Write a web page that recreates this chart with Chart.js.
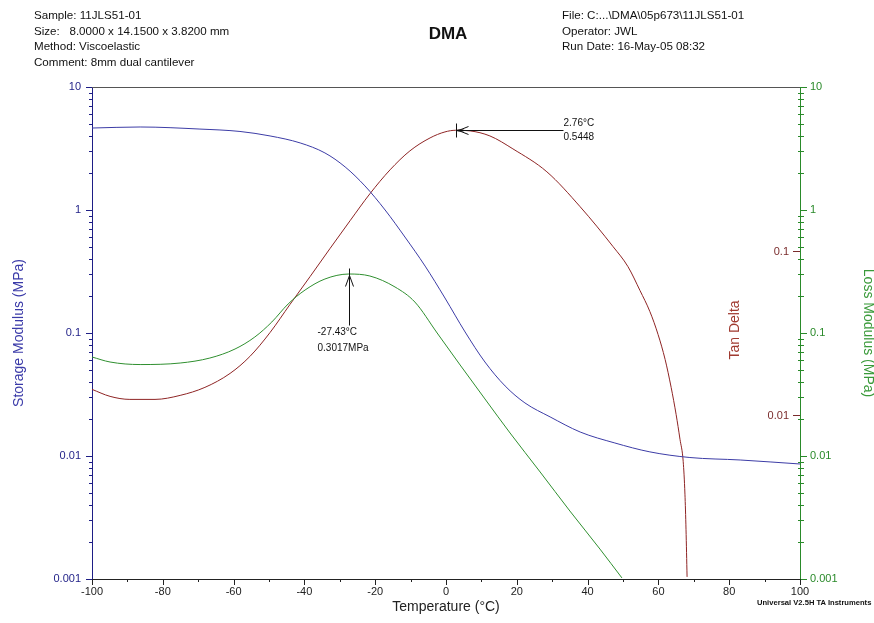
<!DOCTYPE html>
<html><head><meta charset="utf-8">
<script src="https://cdn.jsdelivr.net/npm/chart.js@4.4.1/dist/chart.umd.min.js"></script>
<style>
html,body{margin:0;padding:0;background:#fff;}
#wrap{position:relative;width:874px;height:623px;overflow:hidden;font-family:Arial,"Liberation Sans",sans-serif;}
#c{position:absolute;left:0;top:0;}
.hdr{position:absolute;font-size:11.6px;line-height:15.5px;color:#111;white-space:pre;}
.ttl{position:absolute;left:448px;top:24px;transform:translateX(-50%);font-size:17px;font-weight:bold;color:#111;}
.ftr{position:absolute;left:757px;top:598px;font-size:7.6px;font-weight:bold;color:#111;white-space:nowrap;}
</style></head><body>
<div id="wrap">
<canvas id="c" width="874" height="623"></canvas>
<div class="hdr" style="left:34px;top:7px"><div>Sample: 11JLS51-01</div><div>Size:   8.0000 x 14.1500 x 3.8200 mm</div><div>Method: Viscoelastic</div><div>Comment: 8mm dual cantilever</div></div>
<div class="ttl">DMA</div>
<div class="hdr" style="left:562px;top:7px"><div>File: C:...\DMA\05p673\11JLS51-01</div><div>Operator: JWL</div><div>Run Date: 16-May-05 08:32</div></div>
<div class="ftr">Universal V2.5H TA Instruments</div>
</div>
<script>
// ---- data ----
const storageT   = [-100,-86.4,-69.5,-58.2,-49.7,-41.2,-34.2,-28.5,-22.9,-17.2,-11.6,-5.9,-0.3,5.4,11.0,16.7,22.3,29.4,37.9,47.7,57.6,68.9,83.1,100];
const storageMPa = [4.64,4.73,4.55,4.35,4.00,3.51,2.91,2.24,1.57,1.00,0.603,0.350,0.1926,0.1019,0.0581,0.0371,0.0270,0.0208,0.01567,0.01276,0.0108,0.00972,0.00928,0.00861];

const lossT   = [-100,-94.9,-86.4,-75.1,-66.7,-59.6,-54.0,-49.2,-44.6,-39.8,-34.2,-27.43,-21.5,-14.4,-8.8,-2.5,4.0,11.0,18.1,26.6,35.0,43.5,49.7];
const lossMPa = [0.0638,0.0581,0.0554,0.0570,0.0626,0.0741,0.0928,0.1229,0.1721,0.2237,0.2748,0.3017,0.2906,0.2366,0.1786,0.1,0.0549,0.0291,0.01538,0.00741,0.00357,0.00175,0.00102];

const tanT     = [-100,-94.9,-89.3,-82.2,-75.1,-68.1,-61.0,-55.4,-49.7,-44.1,-38.4,-32.8,-27.1,-21.5,-15.8,-10.2,-4.5,-0.3,2.76,6.8,12.4,18.9,28.5,37.9,47.2,51.4,54.8,57.6,59.9,61.9,63.6,65.0,66.1,67.0,67.5,67.8,68.1];
const tanDelta = [0.01433,0.01299,0.01245,0.01245,0.01317,0.01474,0.01793,0.02275,0.03184,0.04714,0.06981,0.1033,0.1530,0.2233,0.3126,0.4078,0.4893,0.5322,0.5448,0.5400,0.5031,0.4195,0.3039,0.1861,0.1063,0.0803,0.0574,0.0427,0.0310,0.0218,0.01474,0.01009,0.00711,0.00522,0.00329,0.00201,0.00103];

const xTicks        = [-100,-80,-60,-40,-20,0,20,40,60,80,100];
const modulusTicks  = [0.001,0.01,0.1,1,10];
const tanTickLabels = [0.1,0.01];

const tanPeak  = {T: 2.76,   v: 0.5448, l1: '2.76°C',   l2: '0.5448'};
const lossPeak = {T: -27.43, v: 0.3017, l1: '-27.43°C', l2: '0.3017MPa'};

// ---- styles ----
const NAVY = '#1e1e86', BLUE = '#3c3ca6', GREEN = '#2f8f2f', GAX = '#2a8a2a', BROWN = '#8e2424', TANLBL = '#7a2c2c';
const FONT = 'Arial, "Liberation Sans", sans-serif';

function pts(xs, ys){ return xs.map((x,i)=>({x:x, y:ys[i]})); }
function crisp(v){ return Math.round(v)+0.5; }
function seg(ctx,x1,y1,x2,y2,c){ ctx.strokeStyle=c; ctx.beginPath(); ctx.moveTo(x1,y1); ctx.lineTo(x2,y2); ctx.stroke(); }

const decor = {
  id: 'decor',
  afterDraw(chart){
    const {ctx, chartArea:a, scales} = chart;
    const xs = scales.x, yl = scales.y, yt = scales.yTan;
    ctx.save();
    ctx.lineWidth = 1;
    seg(ctx, a.left, crisp(a.top), a.right, crisp(a.top), '#555');
    for (let k=-3;k<=1;k++){
      for (let m=1;m<=9;m++){
        const v = m*Math.pow(10,k);
        if (v>10.0001) break;
        const y = crisp(yl.getPixelForValue(v));
        if (m===1){
          seg(ctx, a.left-6, y, a.left, y, NAVY);
          seg(ctx, a.right, y, a.right+7, y, GAX);
        } else {
          seg(ctx, a.left-3, y, a.left, y, NAVY);
          seg(ctx, a.right-2, y, a.right+4, y, GAX);
        }
      }
    }
    ctx.font = '11px ' + FONT;
    ctx.fillStyle = TANLBL; ctx.textAlign = 'right'; ctx.textBaseline = 'middle';
    tanTickLabels.forEach(v=>{
      const y = crisp(yt.getPixelForValue(v));
      seg(ctx, a.right-7, y, a.right, y, TANLBL);
      ctx.fillText(String(v), a.right-11, y);
    });
    for (let t=-100;t<=100;t+=10){
      const x = crisp(xs.getPixelForValue(t));
      const len = (t%20===0)?6:3;
      seg(ctx, x, a.bottom, x, a.bottom+len, '#222');
    }
    ctx.save();
    ctx.translate(735, 330); ctx.rotate(-Math.PI/2);
    ctx.font = '14px ' + FONT; ctx.fillStyle = '#a03a30'; ctx.textAlign='center'; ctx.textBaseline='middle';
    ctx.fillText('Tan Delta', 0, 0);
    ctx.restore();
    ctx.fillStyle = '#111'; ctx.font = '10px ' + FONT; ctx.textAlign='left'; ctx.textBaseline='middle';
    let px = crisp(xs.getPixelForValue(tanPeak.T)), py = crisp(yt.getPixelForValue(tanPeak.v));
    seg(ctx, px, py-7, px, py+7, '#111');
    seg(ctx, px, py, px+107, py, '#111');
    seg(ctx, px+2, py, px+12, py-4, '#111');
    seg(ctx, px+2, py, px+12, py+4, '#111');
    ctx.fillRect(px+1, py-1, 6, 2);
    ctx.fillText(tanPeak.l1, px+107, py-7);
    ctx.fillText(tanPeak.l2, px+107, py+7);
    px = crisp(xs.getPixelForValue(lossPeak.T)); py = crisp(yl.getPixelForValue(lossPeak.v));
    seg(ctx, px, py-6, px, py+51, '#111');
    seg(ctx, px, py+1, px-4, py+12, '#111');
    seg(ctx, px, py+1, px+4, py+12, '#111');
    ctx.fillText(lossPeak.l1, px-32, py+58);
    ctx.fillText(lossPeak.l2, px-32, py+74);
    ctx.restore();
  }
};

const logTicks = (s)=>{ s.ticks = modulusTicks.map(v=>({value:v})); };

new Chart(document.getElementById('c'), {
  type: 'line',
  data: {
    datasets: [
      {label:'Storage Modulus', data: pts(storageT, storageMPa), yAxisID:'y', borderColor: BLUE, borderWidth:1, pointRadius:0, cubicInterpolationMode:'monotone', fill:false},
      {label:'Loss Modulus', data: pts(lossT, lossMPa), yAxisID:'y2', borderColor: GREEN, borderWidth:1, pointRadius:0, cubicInterpolationMode:'monotone', fill:false},
      {label:'Tan Delta', data: pts(tanT, tanDelta), yAxisID:'yTan', borderColor: BROWN, borderWidth:1, pointRadius:0, cubicInterpolationMode:'monotone', fill:false}
    ]
  },
  options: {
    responsive: false, animation: false, devicePixelRatio: 1,
    layout: {padding: {top: 87, left: 0, right: 0, bottom: 0}},
    plugins: {legend:{display:false}, tooltip:{enabled:false}},
    scales: {
      x: {
        type:'linear', position:'bottom', min:-100, max:100,
        afterBuildTicks: s=>{ s.ticks = xTicks.map(v=>({value:v})); },
        afterFit: s=>{ s.height = 44; },
        grid:{display:false, drawTicks:false},
        border:{display:true, color:'#222', width:1},
        ticks:{autoSkip:false, maxRotation:0, padding:6, color:'#222', font:{family:FONT, size:11}, callback:v=>String(v)},
        title:{display:true, text:'Temperature (°C)', color:'#222', font:{family:FONT, size:14}, padding:{top:0, bottom:7}}
      },
      y: {
        type:'logarithmic', position:'left', min:0.001, max:10,
        afterBuildTicks: logTicks,
        afterFit: s=>{ s.width = 92; },
        grid:{display:false, drawTicks:false},
        border:{display:true, color:NAVY, width:1},
        ticks:{autoSkip:false, padding:11, color:NAVY, font:{family:FONT, size:11}, callback:v=>String(v)},
        title:{display:true, text:'Storage Modulus (MPa)', color:'#3a3aa8', font:{family:FONT, size:14}, padding:{top:11, bottom:0}}
      },
      y2: {
        type:'logarithmic', position:'right', min:0.001, max:10,
        afterBuildTicks: logTicks,
        afterFit: s=>{ s.width = 74; },
        grid:{display:false, drawTicks:false},
        border:{display:true, color:GAX, width:1},
        ticks:{autoSkip:false, padding:10, color:GAX, font:{family:FONT, size:11}, callback:v=>String(v)},
        title:{display:true, text:'Loss Modulus (MPa)', color:'#3a9a3a', font:{family:FONT, size:14}, padding:{top:-2, bottom:0}}
      },
      yTan: {
        type:'logarithmic', display:false, min:0.001, max:1
      }
    }
  },
  plugins: [decor]
});
</script>
</body></html>
